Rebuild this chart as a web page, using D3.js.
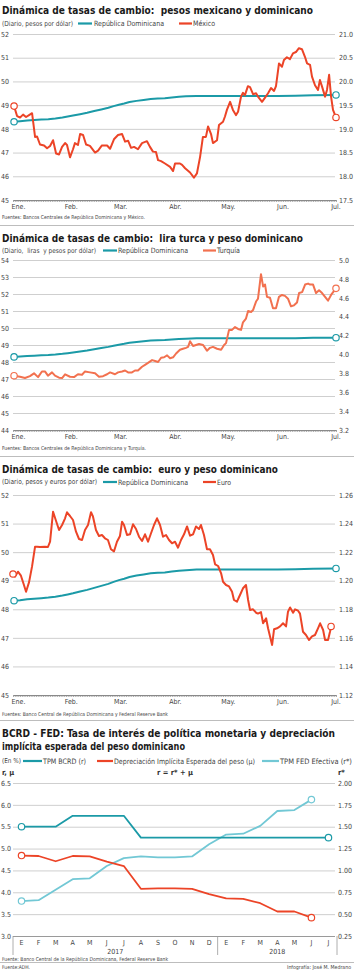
<!DOCTYPE html>
<html><head><meta charset="utf-8">
<script src="https://cdn.jsdelivr.net/npm/d3@7"></script>
<style>
html,body{margin:0;padding:0;background:#fff;}
svg{display:block;}
text{font-family:"Liberation Sans Narrow","DejaVu Sans Condensed","Roboto",sans-serif;}
</style></head><body>
<svg id="c" width="354" height="972"></svg>
<script>
// ---------------- DATA ----------------
const monthLabels = ["Ene.","Feb.","Mar.","Abr.","May.","Jun.","Jul."];
const monthStartDays = [0,31,59,90,120,151,181];

// [day of 2018 (0 = 1 Jan), value]
const rdSeries = [[0.6,48.30],[4,48.32],[8,48.35],[12,48.37],[16,48.39],[20,48.41],[24,48.44],[28,48.48],[31,48.52],[34,48.56],[38,48.62],[42,48.68],[46,48.75],[50,48.82],[54,48.89],[57,48.96],[60,49.02],[63,49.07],[66,49.13],[70,49.18],[74,49.22],[78,49.26],[82,49.28],[86,49.29],[90,49.32],[94,49.35],[98,49.37],[104,49.39],[130,49.39],[150,49.39],[160,49.40],[170,49.42],[183,49.43]];

const mxSeries = [[0.6,19.48],[2.3,19.27],[4,19.24],[5.7,19.30],[7.4,19.25],[9.1,19.29],[10.8,19.33],[12.5,18.83],[13.6,18.84],[15.3,18.67],[17.6,18.65],[19.3,18.59],[21,18.64],[22.7,18.76],[24.4,18.48],[26.1,18.46],[27.8,18.62],[29.5,18.70],[30.6,18.66],[32.3,18.40],[34,18.57],[35.1,18.70],[36.8,18.66],[38,18.89],[39.7,18.87],[41.4,18.67],[43.6,18.64],[46.5,18.50],[48.2,18.54],[50.4,18.65],[53.3,18.65],[55,18.58],[57.2,18.78],[59.5,18.87],[61.8,18.89],[63.5,18.73],[65.2,18.75],[66.9,18.60],[68.6,18.62],[70.8,18.57],[73.1,18.70],[75.9,18.74],[77.6,18.62],[79.3,18.52],[81,18.51],[82.2,18.34],[83.9,18.32],[86.1,18.27],[89,18.20],[90.7,18.11],[91.8,18.27],[94.6,18.27],[95.8,18.24],[97.5,18.17],[100.3,18.08],[102.5,17.97],[104.2,18.06],[106,18.41],[107.6,18.83],[109.3,18.83],[110.5,19.05],[112.2,18.89],[113.3,18.70],[115.6,18.76],[116.7,19.08],[119,19.15],[120.1,19.26],[121.2,19.40],[123,19.57],[124.6,19.40],[126.3,19.29],[127.5,19.36],[129.2,19.68],[130.3,19.76],[131.4,19.71],[133.1,19.90],[134.3,19.88],[136,19.73],[137.7,19.75],[138.8,19.68],[141.1,19.57],[142.8,19.66],[144.5,19.75],[146.2,19.86],[147.9,19.80],[149,19.90],[150.7,20.38],[152.4,20.31],[153.5,20.45],[155.2,20.51],[156.9,20.47],[158.6,20.59],[160.3,20.62],[162,20.70],[163.7,20.68],[165.4,20.52],[166.6,20.38],[168.3,20.35],[169.4,20.10],[171.1,19.92],[172.8,19.82],[173.9,20.03],[175.1,19.89],[176.8,19.68],[177.9,19.82],[179.1,20.14],[180.2,19.68],[181.3,19.40],[183,19.24]];

const trSeries = [[0.6,3.775],[4,3.764],[6.8,3.75],[9.6,3.77],[11.9,3.80],[14.2,3.76],[16.4,3.82],[18.1,3.82],[19.8,3.775],[22.1,3.81],[23.8,3.775],[26.1,3.754],[27.8,3.75],[29.5,3.79],[32.3,3.764],[34.6,3.76],[36.8,3.79],[39.1,3.785],[40.8,3.82],[43.6,3.81],[46.5,3.80],[48.7,3.764],[51,3.77],[53.3,3.79],[55,3.81],[57.8,3.79],[59.5,3.81],[61.8,3.82],[63.5,3.83],[65.2,3.81],[67.4,3.81],[69.1,3.83],[70.8,3.83],[73.1,3.87],[74.8,3.89],[76.5,3.91],[78.8,3.94],[80.5,3.93],[82.2,3.92],[83.9,3.965],[85.6,3.97],[87.3,3.99],[89,3.96],[90.7,3.97],[92.4,4.01],[94.6,4.05],[96.3,4.06],[98,4.07],[99.2,4.08],[100.3,4.14],[102,4.09],[103.7,4.10],[105.4,4.11],[107.7,4.10],[109.9,4.04],[111.6,4.07],[113.3,4.08],[115.6,4.06],[117.9,4.05],[119.6,4.10],[120.7,4.12],[122.4,4.26],[124.1,4.26],[125.8,4.29],[127.5,4.27],[129.2,4.26],[130.3,4.34],[132,4.38],[133.2,4.46],[134.9,4.45],[136,4.47],[137.7,4.56],[138.8,4.59],[140.5,4.85],[141.7,4.72],[142.8,4.74],[143.9,4.61],[145.6,4.60],[147.3,4.49],[149,4.49],[150.7,4.61],[152.4,4.63],[154.1,4.62],[155.8,4.59],[157.5,4.51],[159.2,4.52],[160.9,4.55],[162.1,4.65],[163.8,4.66],[165.5,4.74],[167.2,4.75],[168.3,4.74],[170,4.74],[171.7,4.65],[173.4,4.68],[175.1,4.65],[176.8,4.61],[178.5,4.57],[180.2,4.63],[183,4.70]];

const euSeries = [[0,1.2047],[1.1,1.2028],[2.8,1.2063],[4.5,1.2035],[6.2,1.1970],[7.4,1.1923],[9.1,1.1990],[10.8,1.2100],[12.5,1.2238],[13.6,1.2238],[15.3,1.2236],[18.1,1.2238],[19.8,1.2236],[21,1.2273],[22.7,1.2483],[24.4,1.2418],[26.1,1.2355],[27.8,1.2390],[29.5,1.2437],[30.6,1.2479],[32.3,1.2453],[34,1.2425],[35.7,1.2343],[37.4,1.2292],[39.1,1.2285],[40.8,1.2355],[42.5,1.2390],[44.2,1.2479],[45.3,1.2450],[47,1.2355],[48.7,1.2313],[50.4,1.2320],[52.1,1.2297],[53.8,1.2285],[55.5,1.2220],[57.2,1.2205],[58.9,1.2273],[60.6,1.2313],[61.8,1.2413],[62.9,1.2390],[64.6,1.2320],[66.3,1.2325],[68,1.2395],[69.7,1.2362],[71.4,1.2308],[73.1,1.2278],[74.8,1.2325],[76.5,1.2273],[78.2,1.2332],[79.9,1.2390],[81.6,1.2437],[83.3,1.2390],[85,1.2308],[86.7,1.2320],[88.4,1.2285],[90.1,1.2262],[91.8,1.2273],[93.5,1.2231],[95.2,1.2285],[96.9,1.2325],[98.6,1.2380],[100.3,1.2315],[102,1.2325],[103.7,1.2380],[105.4,1.2362],[106.5,1.2390],[108.2,1.2320],[109.9,1.2220],[111.6,1.2220],[113.3,1.2180],[114.5,1.2115],[116.2,1.2103],[117.9,1.2052],[119,1.1993],[120.7,1.1970],[122.4,1.1960],[124.1,1.1923],[125.2,1.1865],[126.9,1.1853],[128.6,1.1900],[130.3,1.1947],[132,1.1970],[133.2,1.1865],[134.3,1.1795],[136,1.1800],[137.7,1.1776],[138.8,1.1770],[140.5,1.1780],[141.7,1.1702],[143.4,1.1737],[144.5,1.1667],[146.8,1.1550],[147.9,1.1660],[149.6,1.1667],[151.3,1.1680],[153,1.1702],[154.7,1.1680],[155.8,1.1783],[157,1.1813],[158.7,1.1776],[159.8,1.1800],[161.5,1.1790],[162.6,1.1770],[164.3,1.1643],[166,1.1620],[167.7,1.1585],[169.4,1.1610],[171.1,1.1620],[172.8,1.1667],[174,1.1702],[175.7,1.1655],[176.8,1.1585],[178.5,1.1585],[179.6,1.1643],[180.2,1.1680]];

// Chart 4 (monthly, Jan 2017 - Jul 2018)
const c4Months = ["E","F","M","A","M","J","J","A","S","O","N","D","E","F","M","A","M","J","J"];
const c4Years = ["2017","2018"];
const tpmBcrd = [5.5,5.5,5.5,5.75,5.75,5.75,5.75,5.25,5.25,5.25,5.25,5.25,5.25,5.25,5.25,5.25,5.25,5.25,5.25];
const depreciacion = [4.84,4.83,4.71,4.83,4.82,4.70,4.60,4.08,4.09,4.09,4.08,3.96,3.86,3.85,3.75,3.56,3.56,3.42];
const tpmFed = [0.65,0.66,0.78,0.90,0.91,1.05,1.14,1.16,1.15,1.15,1.16,1.30,1.41,1.42,1.51,1.68,1.69,1.81];

// ---------------- DRAWING ----------------
const svg = d3.select("#c");
const C_TEAL = "#1b9aa7", C_RED = "#ec4427", C_ORANGE = "#f2714f", C_LTEAL = "#72c8d5";
const GRID = "#cfcfcf", TXT = "#444";
const xDay = d3.scaleLinear().domain([0,183]).range([13,336]);

function txt(x, y, s, o = {}) {
  let size = o.size || 7.5;
  const t = svg.append("text").attr("x", x).attr("y", y).attr("dy", "0.35em")
    .attr("font-size", size).attr("fill", o.fill || TXT)
    .attr("font-weight", o.weight || "normal").attr("text-anchor", o.anchor || "start")
    .style("white-space", "pre").text(s);
  if (o.len) {
    const natural = t.node().getComputedTextLength();
    const limit = Math.min(o.len * 1.06, 353 - x);
    if (natural > limit) { size = size * limit / natural; t.attr("font-size", size); }
    t.attr("textLength", o.len).attr("lengthAdjust", "spacingAndGlyphs");
  }
  return t;
}
function title(s, y, len, size) { return txt(2, y, s, {size: size || 12.5, weight: "bold", fill: "#1a1a1a", len}); }
function legLine(x1, x2, y, color) {
  svg.append("line").attr("x1", x1).attr("x2", x2).attr("y1", y).attr("y2", y)
    .attr("stroke", color).attr("stroke-width", 2.2);
}
function sep(y) {
  svg.append("line").attr("x1", 0).attr("x2", 354).attr("y1", y).attr("y2", y)
    .attr("stroke", "#bdbdbd").attr("stroke-width", 1);
}
function circle(x, y, color) {
  svg.append("circle").attr("cx", x).attr("cy", y).attr("r", 3.2)
    .attr("fill", "#fff").attr("stroke", color).attr("stroke-width", 1.2);
}

function dailyChart(o) {
  const yL = d3.scaleLinear().domain(o.lDom).range([o.bottom, o.top]);
  const yR = d3.scaleLinear().domain(o.rDom).range([o.bottom, o.top]);
  const grid = svg.append("g").attr("transform", "translate(13,0)")
    .call(d3.axisLeft(yL).tickValues(o.lTicks.slice(1)).tickSize(-322).tickFormat(""));
  grid.select(".domain").remove();
  grid.selectAll("line").attr("stroke", GRID).attr("stroke-width", 1);
  const gl = svg.append("g").attr("transform", "translate(1,0)")
    .call(d3.axisLeft(yL).tickValues(o.lTicks).tickSize(0).tickFormat(d3.format("d")));
  gl.select(".domain").remove();
  gl.selectAll("text").attr("x", 0).attr("text-anchor", "start").attr("fill", TXT)
    .attr("font-size", 7).attr("font-family", null);
  const gr = svg.append("g").attr("transform", "translate(339,0)")
    .call(d3.axisRight(yR).tickValues(o.rTicks).tickSize(0).tickFormat(d3.format(o.rFmt)));
  gr.select(".domain").remove();
  gr.selectAll("text").attr("x", 0).attr("text-anchor", "start").attr("fill", TXT)
    .attr("font-size", 7).attr("font-family", null);
  const gt = svg.append("g").attr("transform", `translate(0,${o.bottom})`)
    .call(d3.axisBottom(xDay).tickValues(d3.range(0, 184)).tickSize(2).tickSizeOuter(0).tickFormat(""));
  gt.select(".domain").attr("stroke", "#8a8a8a");
  gt.selectAll("line").attr("stroke", "#8a8a8a").attr("stroke-width", 0.7);
  const gm = svg.append("g").attr("transform", `translate(0,${o.bottom + 7})`)
    .call(d3.axisBottom(xDay).tickValues(monthStartDays).tickSize(0)
      .tickFormat((d, i) => monthLabels[i]));
  gm.select(".domain").remove();
  gm.selectAll("text").attr("y", 0).attr("dy", "0.35em").attr("fill", TXT)
    .attr("font-size", 7).attr("font-family", null)
    .attr("dx", (d, i) => i === 0 ? 5 : 3);
  const line = (y) => d3.line().x(d => xDay(d[0])).y(d => y(d[1]));
  svg.append("path").datum(rdSeries).attr("d", line(yL)).attr("fill", "none")
    .attr("stroke", C_TEAL).attr("stroke-width", 2).attr("stroke-linejoin", "round");
  svg.append("path").datum(o.series).attr("d", line(yR)).attr("fill", "none")
    .attr("stroke", o.color).attr("stroke-width", 2).attr("stroke-linejoin", "round");
  const r0 = rdSeries[0], r1 = rdSeries[rdSeries.length - 1];
  circle(xDay(r0[0]), yL(r0[1]), C_TEAL); circle(xDay(r1[0]), yL(r1[1]), C_TEAL);
  const s0 = o.series[0], s1 = o.series[o.series.length - 1];
  circle(xDay(s0[0]), yR(s0[1]), o.color); circle(xDay(s1[0]), yR(s1[1]), o.color);
}

// ---- Chart 1
title("Dinámica de tasas de cambio:  pesos mexicano y dominicano", 10.5, 311);
txt(2, 23.5, "(Diario, pesos por dólar)", {len: 71});
legLine(78, 92, 23.5, C_TEAL); txt(94, 23.5, "República Dominicana", {len: 70});
legLine(179, 192, 23.5, C_RED); txt(193, 23.5, "México", {len: 22});
dailyChart({top: 34, bottom: 200, lDom: [45, 52], rDom: [17.5, 21.0],
  lTicks: d3.range(45, 53), rTicks: d3.range(17.5, 21.01, 0.5), rFmt: ".1f",
  series: mxSeries, color: C_RED});
txt(2, 217, "Fuentes: Bancos Centrales de República Dominicana y México.", {size: 6, len: 143});
sep(225.5);

// ---- Chart 2
title("Dinámica de tasas de cambio:  lira turca y peso dominicano", 238.5, 301);
txt(2, 250.5, "(Diario,  liras  y pesos por dólar)", {len: 94});
legLine(103, 117, 250.5, C_TEAL); txt(118, 250.5, "República Dominicana", {len: 70});
legLine(203, 216, 250.5, C_ORANGE); txt(217, 250.5, "Turquía", {len: 23});
dailyChart({top: 260, bottom: 430, lDom: [44, 54], rDom: [3.2, 5.0],
  lTicks: d3.range(44, 55), rTicks: d3.range(3.2, 5.01, 0.2), rFmt: ".1f",
  series: trSeries, color: C_ORANGE});
txt(2, 448, "Fuentes: Bancos Centrales de República Dominicana y Turquía.", {size: 6, len: 144});
sep(456.5);

// ---- Chart 3
title("Dinámica de tasas de cambio:  euro y peso dominicano", 469.5, 276);
txt(2, 482, "(Diario, pesos y euros por dólar)", {len: 95});
legLine(103, 117, 482, C_TEAL); txt(118, 482, "República Dominicana", {len: 70});
legLine(203, 216, 482, C_RED); txt(217, 482, "Euro", {len: 14});
dailyChart({top: 495, bottom: 695, lDom: [45, 52], rDom: [1.12, 1.26],
  lTicks: d3.range(45, 53), rTicks: d3.range(1.12, 1.2601, 0.02), rFmt: ".2f",
  series: euSeries, color: C_RED});
txt(2, 714, "Fuentes: Banco Central de República Dominicana y Federal Reserve Bank", {size: 6, len: 166});
sep(720.5);

// ---- Chart 4
title("BCRD - FED: Tasa de interés de política monetaria y depreciación", 733.5, 333, 11.5);
title("implícita esperada del peso dominicano", 747, 183, 11.5);
txt(2, 761, "(En %)", {len: 19});
legLine(23, 42, 761, C_TEAL); txt(43, 761, "TPM BCRD (r)", {len: 43});
legLine(97, 113, 761, C_RED); txt(114, 761, "Depreciación Implícita Esperada del peso (µ)", {len: 141});
legLine(262, 279, 761, C_LTEAL); txt(280, 761, "TPM FED Efectiva (r*)", {len: 72});
txt(2, 772, "r, µ", {weight: "bold", fill: "#333"});
txt(175, 772, "r = r* + µ", {weight: "bold", fill: "#333", anchor: "middle"});
txt(338, 772, "r*", {weight: "bold", fill: "#333"});

const y4L = d3.scaleLinear().domain([3.0, 6.5]).range([936, 783]);
const y4R = d3.scaleLinear().domain([0.25, 2.0]).range([936, 783]);
const x4 = d3.scaleBand().domain(d3.range(c4Months.length)).range([13, 337]);
const cx = i => x4(i) + x4.bandwidth() / 2;
const ticks4L = d3.range(3.0, 6.51, 0.5);
const ticks4R = d3.range(0.25, 2.001, 0.25);
{
  const grid = svg.append("g").attr("transform", "translate(13,0)")
    .call(d3.axisLeft(y4L).tickValues(ticks4L).tickSize(-322).tickFormat(""));
  grid.select(".domain").remove();
  grid.selectAll("line").attr("stroke", (d) => d === 3.0 ? "#9a9a9a" : GRID);
  const gl = svg.append("g").attr("transform", "translate(1,0)")
    .call(d3.axisLeft(y4L).tickValues(ticks4L).tickSize(0).tickFormat(d3.format(".1f")));
  gl.select(".domain").remove();
  gl.selectAll("text").attr("x", 0).attr("text-anchor", "start").attr("fill", TXT)
    .attr("font-size", 7).attr("font-family", null);
  const gr = svg.append("g").attr("transform", "translate(338,0)")
    .call(d3.axisRight(y4R).tickValues(ticks4R).tickSize(0).tickFormat(d3.format(".2f")));
  gr.select(".domain").remove();
  gr.selectAll("text").attr("x", 0).attr("text-anchor", "start").attr("fill", TXT)
    .attr("font-size", 7).attr("font-family", null);
  const gm = svg.append("g").attr("transform", "translate(0,943)")
    .call(d3.axisBottom(x4).tickSize(0).tickFormat(i => c4Months[i]));
  gm.select(".domain").remove();
  gm.selectAll("text").attr("y", 0).attr("dy", "0.35em").attr("fill", TXT)
    .attr("font-size", 7).attr("font-family", null);
  [13, x4(12), 337].forEach(x => svg.append("line").attr("x1", x).attr("x2", x)
    .attr("y1", 936).attr("y2", 955).attr("stroke", "#9a9a9a").attr("stroke-width", 0.8));
  const yearMid = [(13 + x4(12)) / 2, (x4(12) + 337) / 2];
  c4Years.forEach((y, i) => txt(yearMid[i], 951.5, y, {size: 7, anchor: "middle"}));

  const mline = (y) => d3.line().x((d, i) => cx(i)).y(d => y(d));
  const draw = (data, y, color) => {
    svg.append("path").datum(data).attr("d", mline(y)).attr("fill", "none")
      .attr("stroke", color).attr("stroke-width", 1.8).attr("stroke-linejoin", "round");
  };
  draw(tpmFed, y4R, C_LTEAL);
  draw(depreciacion, y4L, C_RED);
  draw(tpmBcrd, y4L, C_TEAL);
  circle(cx(0), y4R(tpmFed[0]), C_LTEAL); circle(cx(tpmFed.length - 1), y4R(tpmFed[tpmFed.length - 1]), C_LTEAL);
  circle(cx(0), y4L(depreciacion[0]), C_RED); circle(cx(depreciacion.length - 1), y4L(depreciacion[depreciacion.length - 1]), C_RED);
  circle(cx(0), y4L(tpmBcrd[0]), C_TEAL); circle(cx(tpmBcrd.length - 1), y4L(tpmBcrd[tpmBcrd.length - 1]), C_TEAL);
}
txt(2, 959.5, "Fuente: Banco Central de la República Dominicana, Federal Reserve Bank", {size: 6, len: 166});
sep(962.5);
txt(2, 967, "Fuente:ADH.", {size: 5.8, len: 28});
txt(287, 967, "Infografía: José M. Medrano", {size: 5.8, len: 64});
</script>
</body></html>
